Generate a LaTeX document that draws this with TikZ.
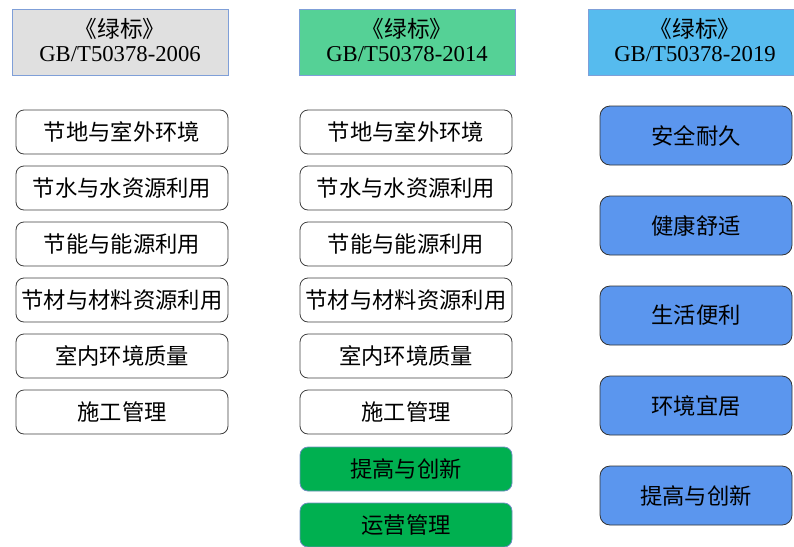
\documentclass[tikz,border=0pt]{standalone}
\usepackage{fontspec}
\setmainfont{Liberation Serif}
\newfontfamily\cjk{Noto Sans CJK SC}
\definecolor{hdrgray}{HTML}{E0E0E0}
\definecolor{hdrgreen}{HTML}{55D196}
\definecolor{hdrblue}{HTML}{56BBEE}
\definecolor{hdrborder}{HTML}{7F9FD8}
\definecolor{boxgreen}{HTML}{00B050}
\definecolor{boxblue}{HTML}{5B96EE}
\definecolor{greenborder}{HTML}{6C8EBF}
\tikzset{
  hdr/.style={draw=hdrborder, line width=0.8pt, minimum height=66pt, inner sep=0pt},
  hdrtext/.style={align=center, inner sep=0pt, font=\fontsize{22.7}{24}\selectfont},
  itembox/.style={draw=black!75, line width=0.8pt, rounded corners=8pt, minimum width=212pt, minimum height=44pt, inner sep=0pt, font=\cjk\fontsize{22.3}{24}\selectfont, fill=white},
  greenbox/.style={itembox, fill=boxgreen, draw=greenborder},
  bluebox/.style={draw=black!80, line width=0.8pt, rounded corners=10pt, minimum width=192pt, minimum height=59pt, inner sep=0pt, font=\cjk\fontsize{22.3}{24}\selectfont, fill=boxblue}
}
\begin{document}
\begin{tikzpicture}[x=1pt,y=-1pt]
\useasboundingbox (0,0) rectangle (794,546);
\clip (0,0) rectangle (794,546);
% headers
\node[hdr, fill=hdrgray, minimum width=216pt] (h1) at (120,42) {};
\node[hdrtext] (h1t) at (120,40) {{\cjk《绿标》}\\GB/T50378-2006};
\node[hdr, fill=hdrgreen, minimum width=216pt] (h2) at (407,42) {};
\node[hdrtext] (h2t) at (407,40) {{\cjk《绿标》}\\GB/T50378-2014};
\node[hdr, fill=hdrblue, minimum width=220pt] (h3) at (698,42) {};
\node[hdrtext] (h3t) at (695,40) {{\cjk《绿标》}\\GB/T50378-2019};
% left column
\node[itembox] (a1) at (122,132) {节地与室外环境};
\node[itembox] (a2) at (122,188) {节水与水资源利用};
\node[itembox] (a3) at (122,244) {节能与能源利用};
\node[itembox] (a4) at (122,300) {节材与材料资源利用};
\node[itembox] (a5) at (122,356) {室内环境质量};
\node[itembox] (a6) at (122,412) {施工管理};
% middle column
\node[itembox] (b1) at (406,132) {节地与室外环境};
\node[itembox] (b2) at (406,188) {节水与水资源利用};
\node[itembox] (b3) at (406,244) {节能与能源利用};
\node[itembox] (b4) at (406,300) {节材与材料资源利用};
\node[itembox] (b5) at (406,356) {室内环境质量};
\node[itembox] (b6) at (406,412) {施工管理};
\node[greenbox] (b7) at (406,469) {提高与创新};
\node[greenbox] (b8) at (406,525) {运营管理};
% right column
\node[bluebox] (c1) at (696,135.5) {安全耐久};
\node[bluebox] (c2) at (696,225.5) {健康舒适};
\node[bluebox] (c3) at (696,315.5) {生活便利};
\node[bluebox] (c4) at (696,405.5) {环境宜居};
\node[bluebox] (c5) at (696,495.5) {提高与创新};
\end{tikzpicture}
\end{document}
